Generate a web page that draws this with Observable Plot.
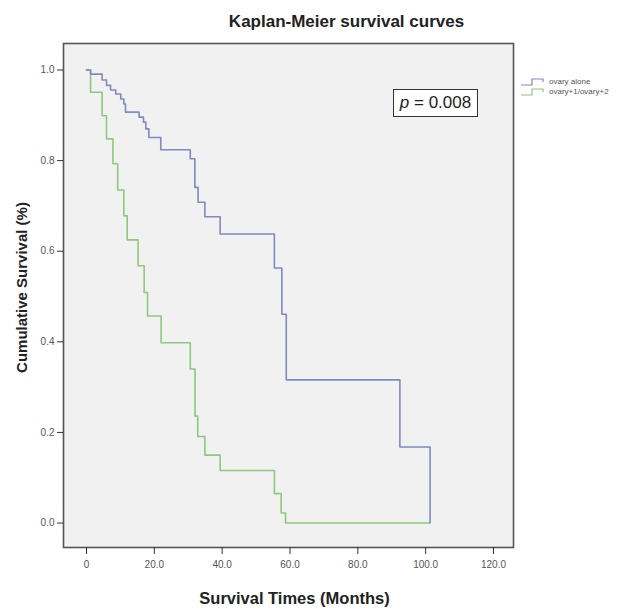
<!DOCTYPE html>
<html>
<head>
<meta charset="utf-8">
<script src="https://cdn.jsdelivr.net/npm/d3@7"></script>
<script src="https://cdn.jsdelivr.net/npm/@observablehq/plot@0.6"></script>
<style>
  html, body { margin: 0; padding: 0; background: #fff; }
  #wrap { position: relative; width: 643px; height: 609px; }
  #pbox { position: absolute; left: 393px; top: 89px; width: 85px; height: 28px; border: 1px solid #333;
          background: #fff; font-family: "Liberation Sans", Arial, sans-serif; font-size: 17px; color: #222;
          display: flex; align-items: center; justify-content: center; box-sizing: border-box; }
  #legend { position: absolute; left: 521px; top: 77px; font-family: "Liberation Sans", Arial, sans-serif;
            font-size: 8px; color: #555; line-height: 10px; }
  #legend div { display: flex; align-items: center; height: 10px; }
  #legend svg { margin-right: 5px; }
</style>
</head>
<body>
<div id="wrap">
  <div id="chart"></div>
  <div id="pbox"><span><i>p</i> = 0.008</span></div>
  <div id="legend"></div>
</div>
<script>
// Series names
const seriesNames = ["ovary alone", "ovary+1/ovary+2"];
const seriesColors = ["#7f8bbf", "#8cc97c"];

// ovary alone (blue)
const blueTimes = [0, 1.2, 4.6, 5.9, 7.1, 8.6, 10.1, 11.0, 11.5, 15.5, 16.8, 17.5, 18.4, 21.9, 30.6, 31.95, 32.9, 34.9, 39.4, 55.4, 57.6, 58.9, 92.4, 101.3];
const blueSurv  = [1, 0.991, 0.978, 0.966, 0.956, 0.947, 0.936, 0.925, 0.907, 0.896, 0.885, 0.870, 0.851, 0.824, 0.804, 0.741, 0.708, 0.676, 0.638, 0.563, 0.461, 0.316, 0.168, 0];

// ovary+1/ovary+2 (green)
const greenTimes = [0, 1.2, 4.6, 5.9, 7.8, 9.2, 11.0, 12.0, 15.2, 17.0, 18.0, 22.0, 30.6, 32.0, 32.8, 34.9, 39.4, 55.4, 57.4, 58.7, 101.2];
const greenSurv  = [1, 0.951, 0.899, 0.848, 0.793, 0.735, 0.678, 0.625, 0.568, 0.509, 0.457, 0.398, 0.340, 0.236, 0.191, 0.150, 0.116, 0.065, 0.022, 0, 0];

// Ticks
const xTicks = [0, 20, 40, 60, 80, 100, 120];
const xTickLabels = ["0", "20.0", "40.0", "60.0", "80.0", "100.0", "120.0"];
const yTicks = [0, 0.2, 0.4, 0.6, 0.8, 1.0];
const yTickLabels = ["0.0", "0.2", "0.4", "0.6", "0.8", "1.0"];

const titleText = "Kaplan-Meier survival curves";
const xLabel = "Survival Times (Months)";
const yLabel = "Cumulative Survival (%)";

const blue = blueTimes.map((t, i) => ({t, s: blueSurv[i], g: seriesNames[0]}));
const green = greenTimes.map((t, i) => ({t, s: greenSurv[i], g: seriesNames[1]}));

const tickFont = "Liberation Sans Narrow, Liberation Sans, Arial, sans-serif";
const boldFont = "Liberation Sans, Arial, sans-serif";

const chart = Plot.plot({
  width: 643,
  height: 609,
  marginLeft: 63,
  marginRight: 130,
  marginTop: 43,
  marginBottom: 62,
  style: {background: "#fff", fontFamily: tickFont},
  x: {domain: [-6.78, 125.9]},
  y: {domain: [-0.054, 1.0585]},
  marks: [
    Plot.frame({fill: "#f1f1f1", stroke: "none"}),
    Plot.line(green, {x: "t", y: "s", curve: "step-after", stroke: seriesColors[1], strokeWidth: 1.6}),
    Plot.line(blue, {x: "t", y: "s", curve: "step-after", stroke: seriesColors[0], strokeWidth: 1.6}),
    Plot.frame({stroke: "#555", strokeWidth: 1.6}),
    Plot.axisX({ticks: xTicks, tickFormat: (d) => xTickLabels[xTicks.indexOf(d)], tickSize: 7, tickPadding: 6,
                label: null, fontSize: 10, color: "#555", stroke: "#333"}),
    Plot.axisY({ticks: yTicks, tickFormat: d => yTickLabels[yTicks.indexOf(d)], tickSize: 6, tickPadding: 3,
                label: null, fontSize: 10, color: "#555", stroke: "#333"}),
    Plot.text([titleText], {frameAnchor: "top", lineAnchor: "middle", dx: 58, dy: -22, fontSize: 17, fontWeight: "bold",
                fontFamily: boldFont, fill: "#222"}),
    Plot.text([xLabel], {frameAnchor: "bottom", lineAnchor: "middle", dx: 6, dy: 51, fontSize: 16.5, fontWeight: "bold",
                fontFamily: boldFont, fill: "#222"}),
    Plot.text([yLabel], {frameAnchor: "left", textAnchor: "middle", lineAnchor: "middle", dx: -41, dy: -8, rotate: -90, fontSize: 15, fontWeight: "bold",
                fontFamily: boldFont, fill: "#222"})
  ]
});
document.getElementById("chart").appendChild(chart);

// Legend
const legend = document.getElementById("legend");
seriesNames.forEach((name, i) => {
  const row = document.createElement("div");
  row.innerHTML = `<svg width="23" height="8"><path d="M0,7 H11 V1 H22 V4" fill="none" stroke="${seriesColors[i]}" stroke-width="1.2"/></svg><span>${name}</span>`;
  legend.appendChild(row);
});
</script>
</body>
</html>
